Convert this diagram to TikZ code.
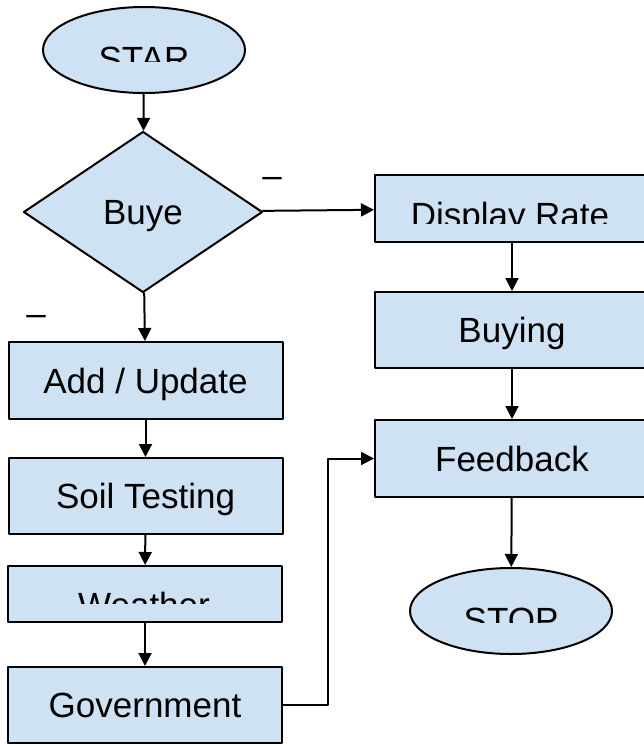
\documentclass[tikz,border=0pt]{standalone}
\usepackage{fontspec}
\setmainfont{Liberation Sans}
\usetikzlibrary{shapes.geometric,arrows.meta}
\definecolor{boxblue}{HTML}{CFE2F3}
\begin{document}
\begin{tikzpicture}[x=1pt, y=-1pt, line join=round, >={Triangle[length=13pt,width=13pt]},
	font=\fontsize{35}{42}\selectfont,
	box/.style={draw, fill=boxblue, line width=2pt, minimum width=274pt, minimum height=76pt, inner sep=0pt, text height=25pt, text depth=0pt},
	term/.style={box, ellipse, minimum width=202pt, minimum height=86pt},
	choice/.style={box, diamond, aspect=1.48, minimum width=239pt, minimum height=161pt},
	lbl/.style={inner sep=0pt, anchor=base},
	link/.style={->, line width=2pt}]
	\useasboundingbox (0,0) rectangle (643,746);
	% left column
	\node[term] (start) at (144,50) {};
	\node[choice] (buyer) at (143,212) {Buye};
	\node[box, minimum height=77pt] (add) at (145.5,380.5) {Add / Update};
	\node[box] (soil) at (145.5,496) {Soil Testing};
	\node[box, minimum height=56pt] (weather) at (145,594) {};
	\node[box] (gov) at (145,705) {Government};
	% right column
	\node[box, minimum height=67pt] (rate) at (512,208.5) {};
	\node[box] (buying) at (512,330) {Buying};
	\node[box, minimum height=77pt] (feedback) at (512,458.5) {Feedback};
	\node[term] (stop) at (511,611) {};
	% labels cut off at the bottom
	\foreach \name/\txt/\x/\y/\cut in {start/STAR/144/72/62, rate/Display Rate/510/227/223, weather/Weather/144/617/603, stop/STOP/511/632/622}
	{
		\begin{scope}
			\clip (\x-140,\cut-80) rectangle (\x+140,\cut);
			\node[lbl] (\name-text) at (\x,\y) {\txt};
		\end{scope}
	}
	\node[inner sep=0pt] (mark-yes) at (272,182) {–};
	\node[inner sep=0pt] (mark-no) at (36,320) {–};
	% connectors
	\foreach \a/\b in {start/buyer, buyer/rate, buyer/add, add/soil, soil/weather, weather/gov, rate/buying, buying/feedback, feedback/stop}
	\draw[link] (\a) -- (\b);
	\draw[link] (gov.east) -- ++(45,0) |- (feedback.west);
\end{tikzpicture}
\end{document}
